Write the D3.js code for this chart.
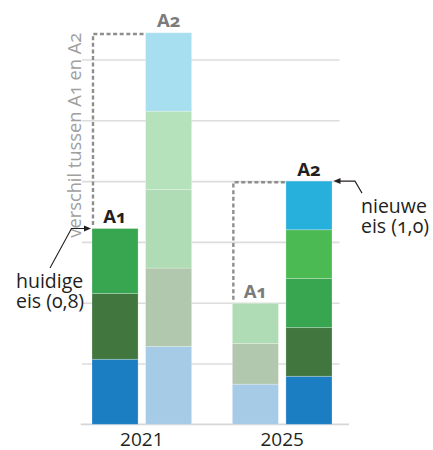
<!DOCTYPE html>
<html>
<head>
<meta charset="utf-8">
<script src="https://cdn.jsdelivr.net/npm/d3@7"></script>
<style>
    body { margin: 0; background: #fff; }
    text { font-family: "Open Sans", "Noto Sans", sans-serif; }
    .onum { font-variant-numeric: oldstyle-nums; font-feature-settings: "onum" 1; }
</style>
</head>
<body>
<div id="chart"></div>
<script>
let width = 433;
let height = 450;

// data (units = one grid step)
let years = ["2021", "2025"];
let levels = ["A1", "A2"];
let seg2021A1 = [1.07, 1.08, 1.07];
let seg2021A2 = [1.28, 1.29, 1.29, 1.29, 1.29];
let seg2025A1 = [0.66, 0.67, 0.66];
let seg2025A2 = [0.79, 0.80, 0.81, 0.80, 0.80];
let gridTicks = [1, 2, 3, 4, 5, 6];
let noteOld = ["huidige", "eis (0,8)"];
let noteNew = ["nieuwe", "eis (1,0)"];
let sideLabel = "verschil tussen A1 en A2";

let darkColors = ["#1b7dc2", "#41773e", "#38a651", "#4cba53", "#27b0db"];
let lightColors = ["#a6cbe6", "#b2c8ae", "#b0dcb5", "#b6e2bb", "#a7def0"];

let bars = [
    {year: "2021", level: "A1", values: seg2021A1, strong: true},
    {year: "2021", level: "A2", values: seg2021A2, strong: false},
    {year: "2025", level: "A1", values: seg2025A1, strong: false},
    {year: "2025", level: "A2", values: seg2025A2, strong: true}
];
bars.forEach(b => {
    let ends = Array.from(d3.cumsum(b.values));
    b.segs = b.values.map((v, i) => ({y0: ends[i] - v, y1: ends[i], i: i, strong: b.strong}));
    b.total = ends[ends.length - 1];
});

let svg = d3.select("div#chart").append("svg")
    .attr("width", width)
    .attr("height", height);

let y = d3.scaleLinear()
    .domain([0, 6])
    .range([424.3, 59.5]);

let x0 = d3.scaleBand()
    .domain(years)
    .range([92, 332])
    .paddingInner(0.29);

let x1 = d3.scaleBand()
    .domain(levels)
    .range([0, x0.bandwidth()])
    .paddingInner(0.14);

let barX = b => x0(b.year) + x1(b.level);

// grid
let grid = svg.append("g")
    .attr("transform", "translate(82,0)")
    .call(d3.axisRight(y).tickValues(gridTicks).tickSize(257.5).tickFormat(""));
grid.select(".domain").remove();
grid.selectAll("line").attr("stroke", "#dcdcdc").attr("stroke-width", 1.6);

svg.append("line")
    .attr("x1", 80.7)
    .attr("x2", 349)
    .attr("y1", y(0))
    .attr("y2", y(0))
    .attr("stroke", "#d6d6d6")
    .attr("stroke-width", 1.8);

// bars
let barG = svg.selectAll("g.bar")
    .data(bars)
    .enter().append("g")
    .attr("class", "bar")
    .attr("transform", b => "translate(" + barX(b) + ",0)");

barG.selectAll("rect")
    .data(b => b.segs)
    .enter().append("rect")
    .attr("x", 0)
    .attr("width", x1.bandwidth())
    .attr("y", d => y(d.y1))
    .attr("height", d => y(d.y0) - y(d.y1))
    .attr("fill", d => d.strong ? darkColors[d.i] : lightColors[d.i])
    .attr("stroke", "#fff")
    .attr("stroke-opacity", 0.3)
    .attr("stroke-width", 0.8);

// A1 / A2 labels
svg.selectAll("text.lvl")
    .data(bars)
    .enter().append("text")
    .attr("class", "lvl onum")
    .attr("x", b => barX(b) + x1.bandwidth() / 2)
    .attr("y", b => y(b.total) - 5.5)
    .attr("text-anchor", "middle")
    .attr("font-size", 18.5)
    .attr("font-weight", 700)
    .attr("fill", b => b.strong ? "#231f20" : "#7b7b7b")
    .text(b => b.level);

// year labels
svg.selectAll("text.year")
    .data(years)
    .enter().append("text")
    .attr("class", "year")
    .attr("x", d => x0(d) + x0.bandwidth() / 2)
    .attr("y", 446)
    .attr("text-anchor", "middle")
    .attr("font-size", 19)
    .attr("fill", "#231f20")
    .text(d => d);

// dashed connectors
years.forEach(yr => {
    let a1 = bars.find(b => b.year === yr && b.level === "A1");
    let a2 = bars.find(b => b.year === yr && b.level === "A2");
    let lx = barX(a1) + 1;
    let topY = y(a2.total) + 1.2;
    svg.append("path")
        .attr("d", "M" + lx + "," + (y(a1.total) - 3.5) + "V" + topY + "H" + barX(a2))
        .attr("fill", "none")
        .attr("stroke", "#8e8e8e")
        .attr("stroke-width", 2.4)
        .attr("stroke-dasharray", "4,2.6");
});

// vertical side label
svg.append("text")
    .attr("transform", "translate(80.5," + y(bars[1].total) + ") rotate(-90)")
    .attr("class", "onum")
    .attr("text-anchor", "end")
    .attr("font-size", 18.3)
    .attr("fill", "#a0a0a0")
    .text(sideLabel);

// arrows
function arrowHead(tx, ty, dir) {
    svg.append("path")
        .attr("d", "M" + tx + "," + ty + "L" + (tx - dir * 7) + "," + (ty - 3) + "L" + (tx - dir * 7) + "," + (ty + 3) + "Z")
        .attr("fill", "#231f20");
}

let oldTip = {x: barX(bars[0]) - 1, y: y(bars[0].total)};
svg.append("path")
    .attr("d", "M" + (oldTip.x - 41) + "," + (oldTip.y + 39.5) + "L" + (oldTip.x - 19.5) + "," + oldTip.y + "H" + (oldTip.x - 5))
    .attr("fill", "none")
    .attr("stroke", "#231f20")
    .attr("stroke-width", 1.1);
arrowHead(oldTip.x, oldTip.y, 1);

let newTip = {x: barX(bars[3]) + x1.bandwidth() + 1.5, y: y(bars[3].total)};
svg.append("path")
    .attr("d", "M" + (newTip.x + 28.5) + "," + (newTip.y + 12) + "L" + (newTip.x + 21.5) + "," + newTip.y + "H" + (newTip.x + 5))
    .attr("fill", "none")
    .attr("stroke", "#231f20")
    .attr("stroke-width", 1.1);
arrowHead(newTip.x, newTip.y, -1);

// notes
function note(lines, x, y0) {
    svg.append("text")
        .attr("class", "onum")
        .attr("x", x)
        .attr("y", y0)
        .attr("font-size", 19.5)
        .attr("fill", "#231f20")
        .selectAll("tspan")
        .data(lines)
        .enter().append("tspan")
        .attr("x", x)
        .attr("dy", (d, i) => i === 0 ? 0 : 19.5)
        .text(d => d);
}
note(noteOld, 16, oldTip.y + 59.5);
note(noteNew, 361, newTip.y + 32.3);
</script>
</body>
</html>
